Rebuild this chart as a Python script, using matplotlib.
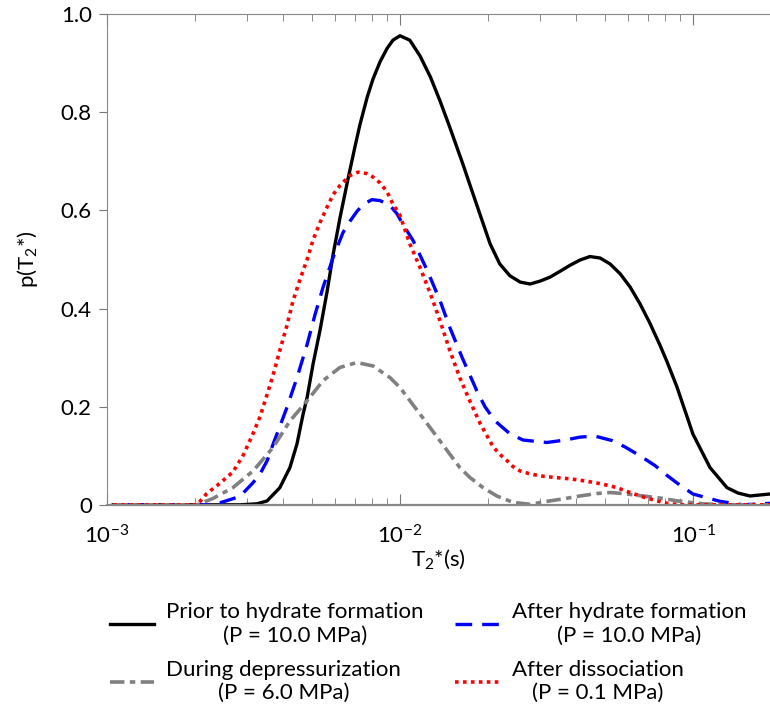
import numpy as np
import matplotlib
matplotlib.use("Agg")
import matplotlib.pyplot as plt
from matplotlib.ticker import FixedLocator, LogLocator, NullFormatter

plt.rcParams['font.family'] = ['Lato', 'DejaVu Sans']
plt.rcParams['mathtext.default'] = 'regular'

# valores (T2* en s, p(T2*))
t_prior = [0.00105, 0.00208, 0.00284, 0.00325, 0.00352, 0.00389, 0.00421, 0.00445,
           0.00467, 0.00482, 0.00505, 0.00533, 0.00564, 0.00591, 0.00624, 0.00665,
           0.00702, 0.00730, 0.00772, 0.00809, 0.00855, 0.00903, 0.00946, 0.0100,
           0.0108, 0.0117, 0.0127, 0.0137, 0.0148, 0.0164, 0.0176, 0.0188, 0.0203, 0.0219,
           0.0237, 0.0257, 0.0278, 0.0301, 0.0325, 0.0352, 0.0380, 0.0412, 0.0445,
           0.0482, 0.0521, 0.0564, 0.0610, 0.0659, 0.0713, 0.0772, 0.0815, 0.0882, 0.1000,
           0.1143, 0.1306, 0.1424, 0.1565, 0.1832]
p_prior = [0, 0, 0, 0.002, 0.008, 0.035, 0.076, 0.124,
           0.185, 0.219, 0.287, 0.355, 0.435, 0.51, 0.585, 0.665,
           0.73, 0.775, 0.83, 0.868, 0.903, 0.93, 0.947, 0.956,
           0.947, 0.915, 0.872, 0.823, 0.769, 0.694, 0.64, 0.59, 0.532, 0.491,
           0.467, 0.454, 0.45, 0.456, 0.464, 0.476, 0.488, 0.499, 0.506,
           0.503, 0.491, 0.471, 0.444, 0.41, 0.37, 0.325, 0.292, 0.24, 0.144,
           0.076, 0.035, 0.024, 0.018, 0.022]

t_after_form = [0.00105, 0.00225, 0.00243, 0.00284, 0.00315, 0.00333, 0.00352, 0.00369,
                0.00389, 0.00411, 0.00445, 0.00482, 0.00513, 0.00546, 0.00591, 0.00639,
                0.00675, 0.00713, 0.00748, 0.00802, 0.00855, 0.00925, 0.00977, 0.0102,
                0.0111, 0.0124, 0.0137, 0.0148, 0.0163, 0.0183, 0.0195, 0.0211, 0.0237,
                0.0263, 0.0317, 0.0366, 0.0412, 0.0463, 0.0529, 0.0586, 0.0659, 0.0742,
                0.0815, 0.0903, 0.1000, 0.1237, 0.1481, 0.1832]
p_after_form = [0, 0, 0.004, 0.017, 0.045, 0.063, 0.09, 0.124,
                0.16, 0.198, 0.259, 0.327, 0.388, 0.443, 0.504, 0.555,
                0.578, 0.598, 0.612, 0.622, 0.62, 0.61, 0.593, 0.573,
                0.538, 0.477, 0.416, 0.361, 0.30, 0.232, 0.20, 0.171, 0.145,
                0.132, 0.127, 0.132, 0.138, 0.14, 0.131, 0.118, 0.10, 0.08,
                0.06, 0.04, 0.022, 0.007, 0, 0.003]

t_depress = [0.00105, 0.00203, 0.00230, 0.00269, 0.00315, 0.00369, 0.00421, 0.00482,
             0.00546, 0.00624, 0.00713, 0.00809, 0.00925, 0.0100, 0.0117, 0.0137,
             0.0160, 0.0173, 0.0192, 0.0214, 0.0243, 0.0278, 0.0317, 0.0360, 0.0412,
             0.0470, 0.0521, 0.0577, 0.0675, 0.0790, 0.0882, 0.1082, 0.1338, 0.1832]
p_depress = [0, 0, 0.013, 0.035, 0.069, 0.117, 0.171, 0.212,
             0.253, 0.280, 0.290, 0.283, 0.259, 0.239, 0.185, 0.130,
             0.076, 0.056, 0.035, 0.018, 0.005, 0.001, 0.007, 0.012, 0.018,
             0.023, 0.025, 0.023, 0.018, 0.013, 0.008, 0.002, 0, 0]

t_dissoc = [0.00105, 0.00203, 0.00219, 0.00243, 0.00269, 0.00291, 0.00315, 0.00333,
            0.00352, 0.00369, 0.00389, 0.00411, 0.00431, 0.00456, 0.00482, 0.00505,
            0.00533, 0.00564, 0.00591, 0.00624, 0.00675, 0.00719, 0.00772, 0.00809,
            0.00855, 0.00903, 0.00946, 0.0100, 0.0108, 0.0117, 0.0127, 0.0137, 0.0148,
            0.0160, 0.0173, 0.0188, 0.0198, 0.0208, 0.0219, 0.0232, 0.0243, 0.0257,
            0.0278, 0.0301, 0.0333, 0.0380, 0.0435, 0.0493, 0.0550, 0.0610, 0.0675,
            0.0754, 0.0815, 0.0903, 0.1832]
p_dissoc = [0, 0, 0.023, 0.044, 0.067, 0.10, 0.145, 0.18,
            0.225, 0.265, 0.315, 0.365, 0.415, 0.46, 0.50, 0.54,
            0.575, 0.607, 0.632, 0.651, 0.671, 0.678, 0.675, 0.668,
            0.656, 0.638, 0.613, 0.59, 0.532, 0.484, 0.430, 0.375, 0.314,
            0.259, 0.212, 0.165, 0.141, 0.118, 0.103, 0.090, 0.078, 0.069,
            0.063, 0.059, 0.056, 0.053, 0.048, 0.042, 0.035, 0.025, 0.016,
            0.008, 0.003, 0, 0]

labels = ['Prior to hydrate formation\n(P = 10.0 MPa)',
          'After hydrate formation\n(P = 10.0 MPa)',
          'During depressurization\n(P = 6.0 MPa)',
          'After dissociation\n(P = 0.1 MPa)']

fig = plt.figure(figsize=(7.7, 7.08), dpi=100)
ax = fig.add_axes([0.139, 0.287, 0.861, 0.693])

l1, = ax.plot(t_prior, p_prior, color='black', lw=2.4, solid_joinstyle='round')
l2, = ax.plot(t_after_form, p_after_form, color='#0000ff', lw=2.4, dashes=(5, 3))
l3, = ax.plot(t_depress, p_depress, color='#808080', lw=2.6, dashes=(4, 1.5, 1.5, 1.5))
l4, = ax.plot(t_dissoc, p_dissoc, color='#ff0000', lw=2.6, dashes=(1, 1.2))

ax.set_xscale('log')
ax.set_xlim(1e-3, 0.1832)
ax.set_ylim(0, 1.0)

ax.xaxis.set_major_locator(FixedLocator([1e-3, 1e-2, 1e-1]))
ax.set_xticklabels([r'$10^{-3}$', r'$10^{-2}$', r'$10^{-1}$'])
ax.xaxis.set_minor_locator(LogLocator(base=10, subs=np.arange(2, 10)))
ax.xaxis.set_minor_formatter(NullFormatter())
ax.set_yticks([0, 0.2, 0.4, 0.6, 0.8, 1.0])
ax.set_yticklabels(['0', '0.2', '0.4', '0.6', '0.8', '1.0'])

ax.tick_params(axis='x', which='both', direction='in', top=True, bottom=True,
               color='#777777', labelsize=16, pad=14)
ax.tick_params(axis='x', which='major', length=8)
ax.tick_params(axis='x', which='minor', length=5)
ax.tick_params(axis='y', direction='out', length=6, color='#777777', labelsize=16, pad=5)

for s in ['top', 'bottom', 'left']:
    ax.spines[s].set_color('#888888')
ax.spines['bottom'].set_linewidth(1.6)
ax.spines['right'].set_visible(False)

ax.set_xlabel(r'$T_2$*(s)', fontsize=16, labelpad=0)
ax.set_ylabel(r'p($T_2$*)', fontsize=16, labelpad=15)

leg = fig.legend([l1, l3, l2, l4], [labels[0], labels[2], labels[1], labels[3]],
                 ncol=2, loc='lower left', bbox_to_anchor=(0.125, -0.012),
                 frameon=False, fontsize=16, handlelength=2.0,
                 columnspacing=1.4, labelspacing=0.65, handletextpad=0.55,
                 borderaxespad=0.2)
for t in leg.get_texts():
    t.set_multialignment('center')

fig.savefig('out.png', dpi=100)
